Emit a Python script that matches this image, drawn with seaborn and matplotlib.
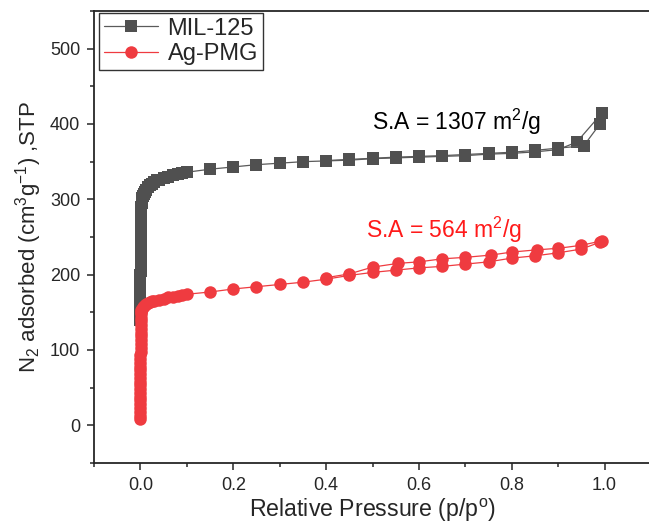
import matplotlib
matplotlib.use('Agg')
import matplotlib.pyplot as plt
import seaborn as sns
from matplotlib.ticker import MultipleLocator

# MIL-125 adsorption / desorption branches
mil_ads_p = [0.00002, 0.00003, 0.00004, 0.00005, 0.00006, 0.00007, 0.00008, 0.00009, 0.0001,
             0.00011, 0.00012, 0.00014, 0.00016, 0.00018, 0.0002, 0.00022, 0.00025, 0.00028,
             0.00031, 0.00035, 0.0004, 0.00045, 0.0005, 0.0006, 0.0007, 0.0008, 0.0009,
             0.0011, 0.0013, 0.0016, 0.002, 0.0025, 0.003,
             0.004, 0.005, 0.007, 0.01, 0.013, 0.016, 0.02, 0.025, 0.03, 0.035, 0.04, 0.05,
             0.06, 0.07, 0.08, 0.09, 0.1,
             0.15, 0.2, 0.25, 0.3, 0.35, 0.4, 0.45, 0.5, 0.55, 0.6, 0.65, 0.7, 0.75, 0.8,
             0.85, 0.9, 0.94, 0.995]
mil_ads_v = [140, 145, 150, 155, 160, 165, 170, 175, 180,
             185, 190, 195, 200, 205, 210, 215, 220, 225,
             230, 235, 240, 245, 250, 255, 260, 265, 270,
             275, 280, 285, 290, 295, 300,
             302, 304, 307, 310, 313, 316, 319, 321, 323, 325, 326, 328,
             330, 332, 333, 335, 336,
             340, 343, 346, 348, 350, 351, 352, 354, 355, 356, 357, 358, 360, 361,
             363, 366, 376, 415]
mil_des_p = [0.99, 0.955, 0.9, 0.85, 0.8, 0.75, 0.7, 0.65, 0.6, 0.55, 0.5, 0.45, 0.4]
mil_des_v = [400, 371, 368, 365, 362.5, 361, 359.5, 358, 357, 356, 354.5, 353, 351.5]

# Ag-PMG adsorption / desorption branches
ag_ads_p = [0.00001, 0.000015, 0.00002, 0.000025, 0.00003, 0.000035, 0.00004, 0.000045,
            0.00005, 0.00006, 0.00007, 0.00008, 0.00009, 0.0001, 0.00011, 0.00012, 0.00014,
            0.00016, 0.00018, 0.0002, 0.00023, 0.00026, 0.0003, 0.00035, 0.0004, 0.0005,
            0.0006, 0.0008, 0.001,
            0.0015, 0.002, 0.003, 0.005, 0.007, 0.01, 0.013, 0.016, 0.02, 0.025, 0.03,
            0.04, 0.05, 0.06, 0.07, 0.08, 0.09,
            0.1, 0.15, 0.2, 0.25, 0.3, 0.35, 0.4, 0.45, 0.5, 0.55, 0.6, 0.65, 0.7, 0.75,
            0.8, 0.85, 0.9, 0.95, 0.99]
ag_ads_v = [8, 13, 18, 23, 28, 33, 38, 43,
            48, 53, 58, 63, 68, 73, 78, 83, 88,
            93, 98, 103, 108, 113, 118, 123, 128, 133,
            138, 143, 148,
            151, 153, 155, 157, 159, 160, 161.5, 162.5, 163.5, 164.5, 165.5,
            167, 168, 170, 171, 172, 173,
            174, 177, 181, 184, 187, 190, 194, 199, 203, 206, 209, 211, 214, 217,
            222, 225, 229, 234, 243]
ag_des_p = [0.995, 0.95, 0.9, 0.855, 0.8, 0.755, 0.7, 0.65, 0.6, 0.555, 0.5, 0.45, 0.4]
ag_des_v = [245, 239, 235, 233, 230, 226, 223, 221, 217, 215, 210, 201, 196]

mil_color = '#505050'
mil_line = '#5a5a5a'
ag_color = '#ef3b40'

sns.set_style('ticks')
plt.rcParams['font.family'] = ['Liberation Sans', 'DejaVu Sans']
plt.rcParams['mathtext.fontset'] = 'custom'
plt.rcParams['mathtext.rm'] = 'Liberation Sans'
plt.rcParams['mathtext.it'] = 'Liberation Sans:italic'

fig = plt.figure(figsize=(6.49, 5.31), dpi=100, facecolor='w')
ax = fig.add_axes([94 / 649, 68 / 531, 557 / 649, 452 / 531])

sq = dict(marker='s', markersize=8, markeredgewidth=0, linewidth=0.9)
ci = dict(marker='o', markersize=9, markeredgewidth=0, linewidth=0.9)

sns.lineplot(x=mil_ads_p, y=mil_ads_v, sort=False, estimator=None, ax=ax,
             color=mil_line, markerfacecolor=mil_color, label='MIL-125', **sq)
sns.lineplot(x=mil_des_p, y=mil_des_v, sort=False, estimator=None, ax=ax,
             color=mil_line, markerfacecolor=mil_color, **sq)
sns.lineplot(x=ag_ads_p, y=ag_ads_v, sort=False, estimator=None, ax=ax,
             color=ag_color, markerfacecolor=ag_color, label='Ag-PMG', **ci)
sns.lineplot(x=ag_des_p, y=ag_des_v, sort=False, estimator=None, ax=ax,
             color=ag_color, markerfacecolor=ag_color, **ci)

ax.set_xlim(-0.1, 1.1)
ax.set_ylim(-50, 550)
ax.xaxis.set_major_locator(MultipleLocator(0.2))
ax.xaxis.set_minor_locator(MultipleLocator(0.1))
ax.yaxis.set_major_locator(MultipleLocator(100))
ax.yaxis.set_minor_locator(MultipleLocator(50))
ax.set_yticks([0, 100, 200, 300, 400, 500])
ax.tick_params(which='major', direction='out', length=5, width=1.1, labelsize=13, pad=5)
ax.tick_params(which='minor', direction='out', length=3, width=1.1)
for s in ax.spines.values():
    s.set_linewidth(1.3)

ax.set_xlabel('Relative Pressure (p/p$^\\mathrm{o}$)', fontsize=16.7, labelpad=2)
ax.set_ylabel('N$_2$ adsorbed (cm$^3$g$^{-1}$) ,STP', fontsize=16, labelpad=4)

ax.text(0.68, 403, 'S.A = 1307 m$^2$/g', color='black', fontsize=16.5,
        ha='center', va='center')
ax.text(0.655, 259, 'S.A = 564 m$^2$/g', color='#ff1a1a', fontsize=16.5,
        ha='center', va='center')

leg = ax.legend(loc='upper left', bbox_to_anchor=(5 / 557, 1 - 2 / 452), borderaxespad=0,
                fontsize=17, frameon=True, fancybox=False, edgecolor='black',
                handlelength=2.3, handletextpad=0.4, borderpad=0.2, labelspacing=0.15)
leg.get_frame().set_linewidth(1.0)

fig.savefig('out.png', dpi=100)
